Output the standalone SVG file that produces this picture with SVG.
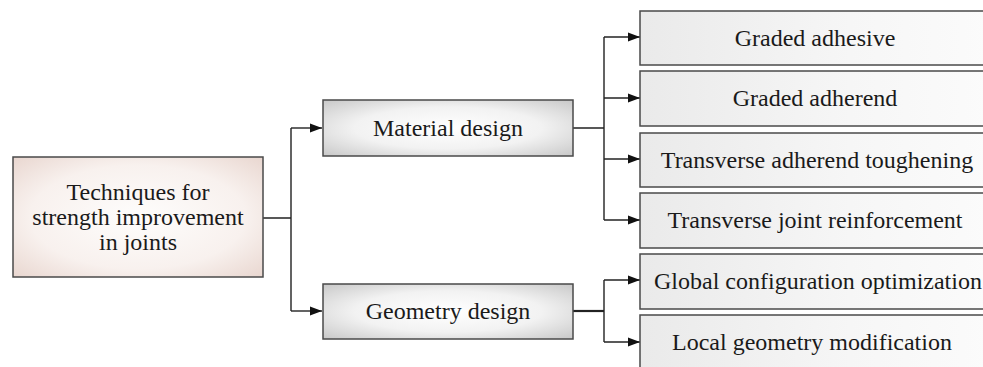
<svg xmlns="http://www.w3.org/2000/svg" width="983" height="367" viewBox="0 0 983 367">
<defs>
<radialGradient id="gRoot" cx="0.5" cy="0.5" r="0.72">
<stop offset="0" stop-color="#fefdfc"/>
<stop offset="0.6" stop-color="#f8f1ee"/>
<stop offset="1" stop-color="#e8d5ce"/>
</radialGradient>
<radialGradient id="gMid" cx="0.5" cy="0.5" r="0.68">
<stop offset="0" stop-color="#ffffff"/>
<stop offset="0.55" stop-color="#f2f2f2"/>
<stop offset="1" stop-color="#cbcbcb"/>
</radialGradient>
<linearGradient id="gLeaf" x1="0" y1="0" x2="1" y2="0">
<stop offset="0" stop-color="#eaeaea"/>
<stop offset="0.6" stop-color="#f6f6f6"/>
<stop offset="1" stop-color="#fbfbfb"/>
</linearGradient>
<marker id="arr" markerWidth="12" markerHeight="10" refX="12" refY="5" orient="auto" markerUnits="userSpaceOnUse">
<path d="M0,0.5 L12,5 L0,9.5 Z" fill="#111"/>
</marker>
</defs>
<style>
.box{stroke:#4a4a4a;stroke-width:1.5}
.t{font-family:"Liberation Serif","Times New Roman",serif;font-size:24px;fill:#1a1a1a;text-anchor:middle}
.c{fill:none;stroke:#222;stroke-width:1.4}
</style>
<g id="connectors">
<path class="c" d="M263,218 H291 M291,128 V311"/>
<path class="c" d="M291,128 H322" marker-end="url(#arr)"/>
<path class="c" d="M291,311 H322" marker-end="url(#arr)"/>
<path class="c" d="M573,128 H604 M604,37 V220"/>
<path class="c" d="M604,37 H640" marker-end="url(#arr)"/>
<path class="c" d="M604,98 H640" marker-end="url(#arr)"/>
<path class="c" d="M604,159 H640" marker-end="url(#arr)"/>
<path class="c" d="M604,220 H640" marker-end="url(#arr)"/>
<path class="c" d="M573,311 H604" style="stroke-width:2.2"/>
<path class="c" d="M604,280 V342"/>
<path class="c" d="M604,280 H640" marker-end="url(#arr)"/>
<path class="c" d="M604,342 H640" marker-end="url(#arr)"/>
</g>
<g id="root">
<rect class="box" x="13" y="157" width="250" height="120" fill="url(#gRoot)"/>
<text class="t" x="138" y="200">Techniques for</text>
<text class="t" x="138" y="225">strength improvement</text>
<text class="t" x="138" y="250">in joints</text>
</g>
<g id="material">
<rect class="box" x="323" y="100" width="250" height="56" fill="url(#gMid)"/>
<text class="t" x="448" y="136">Material design</text>
</g>
<g id="geometry">
<rect class="box" x="323" y="284" width="250" height="55" fill="url(#gMid)"/>
<text class="t" x="448" y="319">Geometry design</text>
</g>
<g id="graded-adhesive">
<rect class="box" x="640" y="11" width="350" height="54" fill="url(#gLeaf)"/>
<text class="t" x="815" y="46">Graded adhesive</text>
</g>
<g id="graded-adherend">
<rect class="box" x="640" y="71" width="350" height="55" fill="url(#gLeaf)"/>
<text class="t" x="815" y="106">Graded adherend</text>
</g>
<g id="transverse-toughening">
<rect class="box" x="640" y="133" width="350" height="54" fill="url(#gLeaf)"/>
<text class="t" x="817" y="168">Transverse adherend toughening</text>
</g>
<g id="transverse-reinforcement">
<rect class="box" x="640" y="193" width="350" height="55" fill="url(#gLeaf)"/>
<text class="t" x="815" y="228">Transverse joint reinforcement</text>
</g>
<g id="global-configuration">
<rect class="box" x="640" y="254" width="350" height="55" fill="url(#gLeaf)"/>
<text class="t" x="818" y="289">Global configuration optimization</text>
</g>
<g id="local-geometry">
<rect class="box" x="640" y="315" width="350" height="56" fill="url(#gLeaf)"/>
<text class="t" x="812" y="350">Local geometry modification</text>
</g>
</svg>
